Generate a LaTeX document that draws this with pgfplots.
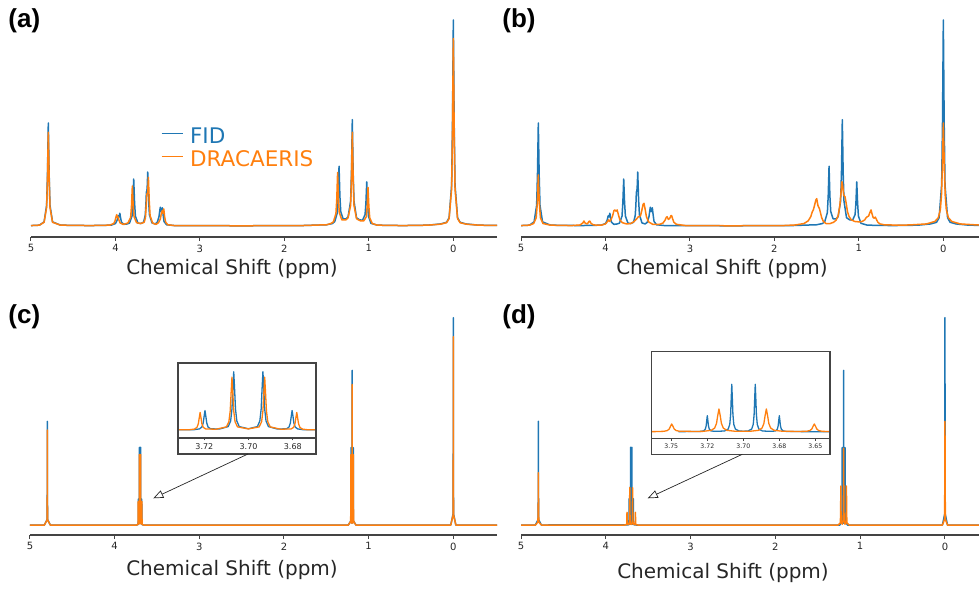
\documentclass[border=0pt]{standalone}
\usepackage{pgfplots}
\pgfplotsset{compat=1.18}
\usepackage{pgfplotstable}
\usepackage{fontspec}
\setmainfont{DejaVu Sans}
\newfontfamily\panelfont{Liberation Sans}
\usetikzlibrary{arrows.meta}
\definecolor{fidblue}{HTML}{1F77B4}
\definecolor{dracorange}{HTML}{FF7F0E}
\definecolor{spinegray}{HTML}{444444}
\definecolor{textdark}{HTML}{262626}

% ---------- panel (a)/(b): FID ----------
\pgfplotstableread{
x y
5.00 0.002
4.90 0.004
4.845 0.02
4.815 0.10
4.805 0.25
4.795 0.50
4.785 0.25
4.775 0.10
4.745 0.02
4.65 0.004
4.30 0.002
4.05 0.004
4.00 0.012
3.98 0.028
3.970 0.046
3.965 0.050
3.957 0.044
3.948 0.062
3.940 0.040
3.928 0.018
3.90 0.008
3.86 0.010
3.834 0.014
3.804 0.048
3.794 0.115
3.784 0.228
3.774 0.115
3.764 0.048
3.734 0.014
3.70 0.012
3.668 0.018
3.648 0.05
3.640 0.10
3.634 0.165
3.628 0.17
3.623 0.20
3.618 0.262
3.608 0.13
3.598 0.055
3.568 0.015
3.53 0.010
3.505 0.018
3.485 0.045
3.475 0.075
3.469 0.091
3.457 0.070
3.445 0.088
3.436 0.055
3.425 0.022
3.395 0.006
3.30 0.002
2.50 0.001
1.80 0.002
1.50 0.006
1.43 0.012
1.403 0.022
1.373 0.065
1.363 0.145
1.353 0.29
1.343 0.145
1.333 0.07
1.305 0.035
1.27 0.035
1.246 0.045
1.216 0.12
1.206 0.26
1.196 0.516
1.186 0.26
1.176 0.12
1.146 0.04
1.11 0.03
1.075 0.028
1.045 0.055
1.035 0.11
1.025 0.214
1.015 0.11
1.005 0.048
0.975 0.013
0.90 0.004
0.60 0.002
0.30 0.004
0.15 0.01
0.08 0.018
0.05 0.04
0.02 0.2
0.01 0.5
0.00 1.0
-0.01 0.5
-0.02 0.2
-0.05 0.04
-0.08 0.018
-0.15 0.01
-0.30 0.004
-0.60 0.002
}\fida

% ---------- panel (a): DRACAERIS ----------
\pgfplotstableread{
x y
5.00 0.002
4.90 0.004
4.845 0.018
4.815 0.09
4.805 0.23
4.795 0.455
4.785 0.23
4.775 0.09
4.745 0.018
4.65 0.004
4.30 0.002
4.07 0.004
4.02 0.012
4.005 0.025
3.993 0.045
3.985 0.055
3.977 0.042
3.970 0.045
3.960 0.030
3.945 0.015
3.91 0.008
3.87 0.012
3.85 0.016
3.820 0.042
3.810 0.10
3.800 0.194
3.790 0.10
3.780 0.045
3.75 0.016
3.70 0.012
3.66 0.018
3.645 0.04
3.636 0.10
3.628 0.155
3.620 0.16
3.615 0.19
3.610 0.236
3.600 0.12
3.590 0.05
3.56 0.014
3.52 0.008
3.49 0.016
3.468 0.035
3.455 0.065
3.445 0.075
3.437 0.062
3.428 0.083
3.418 0.045
3.405 0.018
3.38 0.006
3.30 0.002
2.50 0.001
1.80 0.002
1.50 0.006
1.45 0.012
1.42 0.02
1.39 0.06
1.380 0.13
1.370 0.26
1.360 0.13
1.350 0.065
1.32 0.03
1.27 0.03
1.246 0.04
1.216 0.10
1.206 0.23
1.196 0.455
1.186 0.23
1.176 0.10
1.146 0.035
1.10 0.025
1.06 0.025
1.030 0.045
1.020 0.095
1.010 0.187
1.000 0.095
0.990 0.04
0.96 0.012
0.90 0.004
0.60 0.002
0.30 0.004
0.15 0.009
0.08 0.016
0.05 0.036
0.02 0.18
0.01 0.455
0.00 0.91
-0.01 0.455
-0.02 0.18
-0.05 0.036
-0.08 0.016
-0.15 0.009
-0.30 0.004
-0.60 0.002
}\dra

% ---------- panel (b): DRACAERIS ----------
\pgfplotstableread{
x y
5.00 0.002
4.90 0.004
4.85 0.012
4.82 0.04
4.807 0.11
4.795 0.248
4.783 0.11
4.770 0.04
4.74 0.012
4.65 0.004
4.40 0.002
4.30 0.005
4.265 0.016
4.255 0.024
4.240 0.014
4.215 0.010
4.195 0.022
4.185 0.024
4.170 0.012
4.14 0.005
4.05 0.004
4.00 0.010
3.975 0.022
3.962 0.030
3.950 0.022
3.935 0.03
3.915 0.050
3.900 0.074
3.890 0.078
3.875 0.072
3.862 0.078
3.850 0.060
3.830 0.030
3.80 0.016
3.75 0.010
3.70 0.012
3.66 0.022
3.630 0.035
3.610 0.045
3.600 0.045
3.585 0.050
3.570 0.075
3.555 0.105
3.544 0.110
3.532 0.085
3.515 0.045
3.490 0.020
3.44 0.008
3.36 0.008
3.32 0.014
3.295 0.028
3.280 0.042
3.270 0.045
3.255 0.032
3.240 0.036
3.225 0.050
3.216 0.050
3.205 0.035
3.190 0.018
3.16 0.008
3.05 0.002
2.50 0.001
1.90 0.002
1.75 0.005
1.65 0.012
1.60 0.025
1.57 0.045
1.55 0.070
1.539 0.078
1.525 0.10
1.510 0.125
1.499 0.133
1.485 0.100
1.475 0.090
1.468 0.086
1.455 0.065
1.44 0.040
1.42 0.022
1.39 0.012
1.34 0.012
1.30 0.018
1.27 0.028
1.245 0.05
1.225 0.10
1.210 0.17
1.200 0.215
1.190 0.19
1.180 0.15
1.170 0.145
1.164 0.142
1.150 0.11
1.135 0.07
1.115 0.045
1.09 0.03
1.05 0.022
1.00 0.020
0.96 0.022
0.93 0.030
0.915 0.040
0.900 0.045
0.885 0.048
0.870 0.065
0.856 0.078
0.845 0.060
0.830 0.040
0.815 0.038
0.805 0.043
0.790 0.030
0.775 0.018
0.75 0.010
0.70 0.006
0.55 0.004
0.40 0.005
0.20 0.010
0.10 0.022
0.06 0.04
0.035 0.08
0.022 0.15
0.012 0.28
0.000 0.50
-0.012 0.28
-0.022 0.15
-0.035 0.08
-0.06 0.04
-0.10 0.022
-0.20 0.010
-0.40 0.005
-0.60 0.003
}\drb

% ---------- panel (c): FID ----------
\pgfplotstableread{
x y
5.00 0
4.83 0
4.7975 0.027
4.7958 0.18
4.795 0.50
4.7942 0.18
4.7925 0.027
4.76 0
3.745 0
3.735 0.001
3.7247 0.002
3.7222 0.007
3.7211 0.019
3.7205 0.045
3.7201 0.087
3.7197 0.125
3.7193 0.087
3.7189 0.045
3.7183 0.019
3.7172 0.008
3.7132 0.006
3.7092 0.022
3.7081 0.058
3.7075 0.135
3.7071 0.26
3.7067 0.375
3.7063 0.26
3.7059 0.135
3.7053 0.058
3.7042 0.022
3.7001 0.008
3.6960 0.022
3.6949 0.058
3.6943 0.135
3.6939 0.26
3.6935 0.375
3.6931 0.26
3.6927 0.135
3.6921 0.058
3.6910 0.022
3.6869 0.006
3.6828 0.008
3.6817 0.019
3.6811 0.045
3.6807 0.087
3.6803 0.125
3.6799 0.087
3.6795 0.045
3.6789 0.019
3.6778 0.007
3.6753 0.002
3.665 0.001
3.655 0
1.24 0
1.2106 0.02
1.2089 0.134
1.2081 0.373
1.2073 0.134
1.2056 0.025
1.2015 0.01
1.1975 0.04
1.1958 0.27
1.195 0.746
1.1942 0.27
1.1925 0.04
1.1885 0.01
1.1844 0.025
1.1827 0.134
1.1819 0.373
1.1811 0.134
1.1794 0.02
1.15 0
0.03 0
0.0025 0.054
0.0008 0.36
0.0000 1.0
-0.0008 0.36
-0.0025 0.054
-0.03 0
-0.60 0
}\fidc

% ---------- panel (c): DRACAERIS ----------
\pgfplotstableread{
x y
5.00 0
4.83 0
4.7975 0.025
4.7958 0.165
4.795 0.458
4.7942 0.165
4.7925 0.025
4.76 0
3.745 0
3.74 0.0005
3.7269 0.0016
3.7244 0.006
3.7233 0.0175
3.7227 0.041
3.7223 0.078
3.7219 0.113
3.7215 0.078
3.7211 0.041
3.7205 0.0175
3.7194 0.007
3.7147 0.005
3.7100 0.020
3.7089 0.053
3.7083 0.122
3.7079 0.235
3.7075 0.34
3.7071 0.235
3.7067 0.122
3.7061 0.053
3.7050 0.020
3.7001 0.007
3.6952 0.020
3.6941 0.053
3.6935 0.122
3.6931 0.235
3.6927 0.34
3.6923 0.235
3.6919 0.122
3.6913 0.053
3.6902 0.020
3.6855 0.005
3.6807 0.007
3.6796 0.0175
3.6790 0.041
3.6786 0.078
3.6782 0.113
3.6778 0.078
3.6774 0.041
3.6768 0.0175
3.6757 0.006
3.6732 0.0016
3.66 0.0005
3.655 0
1.24 0
1.2119 0.018
1.2102 0.122
1.2094 0.339
1.2086 0.122
1.2069 0.022
1.2022 0.009
1.1975 0.037
1.1958 0.244
1.195 0.678
1.1942 0.244
1.1925 0.037
1.1878 0.009
1.1831 0.022
1.1814 0.122
1.1806 0.339
1.1798 0.122
1.1781 0.018
1.15 0
0.03 0
0.0025 0.049
0.0008 0.327
0.0000 0.908
-0.0008 0.327
-0.0025 0.049
-0.03 0
-0.60 0
}\drc

% ---------- panel (d): FID ----------
\pgfplotstableread{
x y
5.00 0
4.83 0
4.7975 0.027
4.7958 0.18
4.795 0.50
4.7942 0.18
4.7925 0.027
4.76 0
3.745 0.0005
3.730 0.002
3.7275 0.007
3.7264 0.02
3.7258 0.046
3.7254 0.088
3.725 0.127
3.7246 0.088
3.7242 0.046
3.7236 0.02
3.7225 0.007
3.720 0.003
3.7165 0.004
3.713 0.006
3.7105 0.021
3.7094 0.058
3.7088 0.135
3.7084 0.26
3.708 0.375
3.7076 0.26
3.7072 0.135
3.7066 0.058
3.7055 0.021
3.703 0.006
3.6999 0.004
3.6967 0.006
3.6942 0.021
3.6931 0.058
3.6925 0.135
3.6921 0.26
3.6917 0.375
3.6913 0.26
3.6909 0.135
3.6903 0.058
3.6892 0.021
3.6867 0.006
3.6834 0.004
3.680 0.003
3.6775 0.007
3.6764 0.02
3.6758 0.046
3.6754 0.088
3.675 0.127
3.6746 0.088
3.6742 0.046
3.6736 0.02
3.6725 0.007
3.670 0.002
3.655 0.0005
3.64 0
1.24 0
1.2142 0.02
1.2125 0.134
1.2117 0.373
1.2109 0.134
1.2092 0.025
1.2034 0.008
1.1975 0.04
1.1958 0.27
1.195 0.746
1.1942 0.27
1.1925 0.04
1.1867 0.008
1.1808 0.025
1.1791 0.134
1.1783 0.373
1.1775 0.134
1.1758 0.02
1.15 0
0.03 0
0.0025 0.054
0.0008 0.36
0.0000 1.0
-0.0008 0.36
-0.0025 0.054
-0.03 0
-0.60 0
}\fidd

% ---------- panel (d): DRACAERIS ----------
\pgfplotstableread{
x y
5.00 0
4.83 0
4.8004 0.014
4.7967 0.091
4.7959 0.174
4.795 0.252
4.7941 0.174
4.7933 0.091
4.7896 0.014
4.76 0
3.78 0
3.770 0.0005
3.7607 0.001
3.7551 0.0033
3.7527 0.0095
3.7514 0.022
3.7506 0.042
3.7497 0.061
3.7488 0.042
3.7480 0.022
3.7467 0.0095
3.7443 0.004
3.7387 0.003
3.7333 0.002
3.7279 0.003
3.7223 0.011
3.7199 0.029
3.7186 0.066
3.7178 0.125
3.7169 0.18
3.7160 0.125
3.7152 0.066
3.7139 0.029
3.7115 0.011
3.7059 0.004
3.7005 0.003
3.6950 0.004
3.6894 0.011
3.6870 0.029
3.6857 0.066
3.6849 0.125
3.6840 0.18
3.6831 0.125
3.6823 0.066
3.6810 0.029
3.6786 0.011
3.6730 0.004
3.6674 0.003
3.6617 0.002
3.6561 0.0035
3.6537 0.0095
3.6524 0.022
3.6516 0.042
3.6507 0.061
3.6498 0.042
3.6490 0.022
3.6477 0.0095
3.6453 0.0033
3.6397 0.001
3.630 0.0005
3.62 0
1.26 0
1.2334 0.010
1.2297 0.068
1.2289 0.13
1.228 0.188
1.2271 0.13
1.2263 0.068
1.2226 0.012
1.2115 0.004
1.2004 0.022
1.1967 0.133
1.1959 0.255
1.195 0.37
1.1941 0.255
1.1933 0.133
1.1896 0.022
1.1785 0.004
1.1674 0.012
1.1637 0.068
1.1629 0.13
1.162 0.188
1.1611 0.13
1.1603 0.068
1.1566 0.010
1.13 0
0.03 0
0.0054 0.027
0.0017 0.18
0.0009 0.345
0.0000 0.50
-0.0009 0.345
-0.0017 0.18
-0.0054 0.027
-0.03 0
-0.60 0
}\drd

\pgfplotsset{
  mainax/.style={scale only axis, anchor=south west, x dir=reverse,
    xmin=-0.517, xmax=5,
    axis x line*=bottom, axis y line=none,
    x axis line style={-, line width=1.3pt, spinegray},
    xtick={0,1,2,3,4,5}, xtick align=outside, major tick length=4pt,
    tick style={spinegray, line width=1pt},
    xticklabel style={font=\fontsize{10}{12}\selectfont, text=textdark, inner sep=0pt, yshift=-3.5pt},
    /pgf/number format/assume math mode=true},
  inax/.style={scale only axis, anchor=south west, x dir=reverse,
    axis background/.style={fill=white},
    axis line style={spinegray, line width=1.1pt},
    ytick=\empty, xtick pos=left, xtick align=outside, major tick length=2.5pt,
    tick style={spinegray, line width=0.8pt},
    xticklabel style={text=textdark, inner sep=0pt, yshift=-2.5pt}},
  fidline/.style={fidblue, line width=1.5pt, line join=round, no markers},
  drline/.style={dracorange, line width=1.5pt, line join=round, no markers},
}

\begin{document}
\begin{tikzpicture}[x=1pt,y=1pt]
\useasboundingbox (0,0) rectangle (979,589);

% ---------------- (a) ----------------
\begin{axis}[mainax, at={(31pt,352pt)}, width=466pt, height=223.2pt,
  ymin=-0.0534, ymax=1.03,
  legend style={at={(rel axis cs:0.2783,0.50)}, anchor=north west, draw=none, fill=none,
    inner sep=0pt, row sep=1.5pt, column sep=4pt, font=\fontsize{21.5}{24}\selectfont, cells={anchor=west}},
  legend image code/.code={\draw[#1] (0pt,2.5pt) -- (21.7pt,2.5pt);}]
\addplot[fidline] table {\fida};
\addlegendentry{\textcolor{fidblue}{FID}}
\addplot[drline] table {\dra};
\addlegendentry{\textcolor{dracorange}{DRACAERIS}}
\end{axis}

% ---------------- (b) ----------------
\begin{axis}[mainax, at={(521pt,352pt)}, width=466pt, height=223.2pt,
  ymin=-0.0534, ymax=1.03]
\addplot[fidline] table {\fida};
\addplot[drline] table {\drb};
\end{axis}

% ---------------- (c) ----------------
\begin{axis}[mainax, at={(30pt,54pt)}, width=467.1pt, height=223.5pt,
  ymin=-0.0482, ymax=1.03]
\addplot[fidline] table {\fidc};
\addplot[drline] table {\drc};
\end{axis}

% ---------------- (d) ----------------
\begin{axis}[mainax, at={(521pt,54pt)}, width=467.8pt, height=223.5pt,
  ymin=-0.0482, ymax=1.03]
\addplot[fidline] table {\fidd};
\addplot[drline] table {\drd};
\end{axis}

% ---------------- inset (c) ----------------
\begin{axis}[inax, name=insc, at={(178pt,151pt)}, width=138pt, height=75pt,
  xmin=3.6695, xmax=3.7319, ymin=-0.0514, ymax=0.431,
  xtick={3.72,3.70,3.68}, xticklabels={3.72,3.70,3.68},
  xticklabel style={font=\fontsize{8}{9}\selectfont}]
\addplot[fidline, line width=1.3pt, restrict x to domain=3.6:3.8] table {\fidc};
\addplot[drline, line width=1.3pt, restrict x to domain=3.6:3.8] table {\drc};
\end{axis}
\draw[spinegray, line width=1.1pt] ([yshift=-16pt]insc.south west) rectangle (insc.north east);

% ---------------- inset (d) ----------------
\begin{axis}[inax, name=insd, at={(651.7pt,150.7pt)}, width=178.3pt, height=86.6pt,
  xmin=3.6398, xmax=3.7636, ymin=-0.052, ymax=0.633,
  xtick={3.75,3.725,3.70,3.675,3.65}, xticklabels={3.75,3.72,3.70,3.68,3.65},
  xticklabel style={font=\fontsize{6.2}{7}\selectfont}]
\addplot[fidline, line width=1.3pt, restrict x to domain=3.6:3.8] table {\fidd};
\addplot[drline, line width=1.3pt, restrict x to domain=3.6:3.8] table {\drd};
\end{axis}
\draw[spinegray, line width=1.1pt] ([yshift=-16pt]insd.south west) rectangle (insd.north east);

% arrows
\draw[black!85, line width=0.7pt, -{Triangle[open, length=10pt, width=8pt]}] (248,135) -- (153.3,90.7);
\draw[black!85, line width=0.7pt, -{Triangle[open, length=10pt, width=8pt]}] (742.3,134.7) -- (647.7,90.7);

% axis labels
\node[font=\fontsize{20}{24}\selectfont, text=textdark] at (232,319.7) {Chemical Shift (ppm)};
\node[font=\fontsize{20}{24}\selectfont, text=textdark] at (722,319.7) {Chemical Shift (ppm)};
\node[font=\fontsize{20}{24}\selectfont, text=textdark] at (232,19) {Chemical Shift (ppm)};
\node[font=\fontsize{20}{24}\selectfont, text=textdark] at (723,16) {Chemical Shift (ppm)};

% panel labels
\node[anchor=base west, inner sep=0pt, font=\panelfont\bfseries\fontsize{26}{30}\selectfont] at (8.2,561.2) {(a)};
\node[anchor=base west, inner sep=0pt, font=\panelfont\bfseries\fontsize{26}{30}\selectfont] at (502.2,561.2) {(b)};
\node[anchor=base west, inner sep=0pt, font=\panelfont\bfseries\fontsize{26}{30}\selectfont] at (8.2,265.5) {(c)};
\node[anchor=base west, inner sep=0pt, font=\panelfont\bfseries\fontsize{26}{30}\selectfont] at (502.2,265.5) {(d)};
\end{tikzpicture}
\end{document}
